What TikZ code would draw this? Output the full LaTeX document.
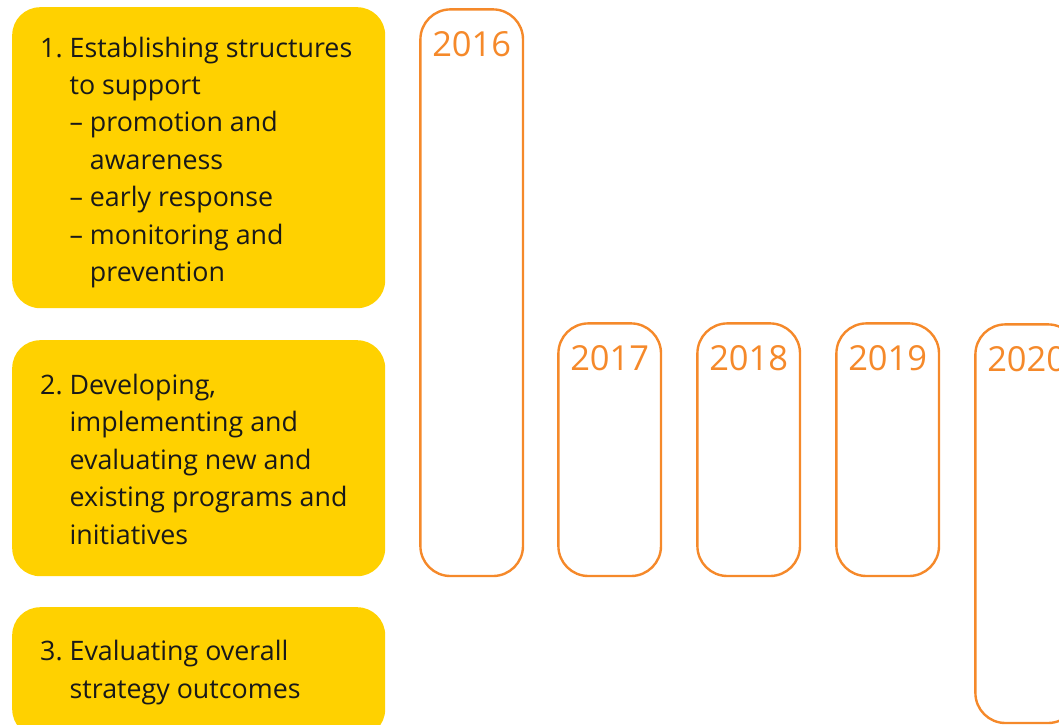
\documentclass[tikz,border=0pt]{standalone}
\usepackage{fontspec}
\setmainfont{Open Sans}
\definecolor{aimyellow}{HTML}{FFD100}
\definecolor{yearorange}{HTML}{F5892A}
\tikzset{
  aimbox/.style={fill=aimyellow, rounded corners=28pt, anchor=north west,
    minimum width=373pt, inner sep=0pt},
  aimtext/.style={anchor=base west, inner sep=0pt, align=left, text=black!90,
    font=\fontsize{26.8}{37.4}\selectfont},
  yearbox/.style={draw=yearorange, line width=2.4pt, rounded corners=30pt,
    anchor=north west, minimum width=102.6pt, inner sep=0pt},
  yeartext/.style={text=yearorange, inner sep=0pt, font=\fontsize{34.5}{35}\selectfont}
}
\begin{document}
\begin{tikzpicture}[x=1pt, y=-1pt]
  \clip (0,0) rectangle (1059,724);
  % aims (text nodes sit on the baseline of their last line)
  \node[aimbox, minimum height=301pt] (aim1) at (12,7) {};
  \node[aimbox, minimum height=236pt] (aim2) at (12,340) {};
  \node[aimbox, minimum height=130pt] (aim3) at (12,607) {};
  \node[aimtext] (a1) at (40,281.4) {1.~Establishing structures\\
    \hphantom{1.~}to support\\
    \hphantom{1.~}–~promotion and\\
    \hphantom{1.~–~}awareness\\
    \hphantom{1.~}–~early response\\
    \hphantom{1.~}–~monitoring and\\
    \hphantom{1.~–~}prevention};
  \node[aimtext] (a2) at (40,544) {2.~Developing,\\
    \hphantom{2.~}implementing and\\
    \hphantom{2.~}evaluating new and\\
    \hphantom{2.~}existing programs and\\
    \hphantom{2.~}initiatives};
  \node[aimtext] (a3) at (40,698) {3.~Evaluating overall\\
    \hphantom{3.~}strategy outcomes};
  % years
  \node[yearbox, minimum height=566.6pt] (y2016) at (419.2,8.2) {};
  \node[yearbox, minimum height=252.6pt] (y2017) at (557.2,322.2) {};
  \node[yearbox, minimum height=252.6pt] (y2018) at (696.2,322.2) {};
  \node[yearbox, minimum height=252.6pt] (y2019) at (835.2,322.2) {};
  \node[yearbox, minimum height=398.6pt] (y2020) at (974.2,323.2) {};
  \node[yeartext] (t2016) at ([yshift=-36pt]y2016.north) {2016};
  \node[yeartext] (t2017) at ([yshift=-36pt]y2017.north) {2017};
  \node[yeartext] (t2018) at ([yshift=-36pt]y2018.north) {2018};
  \node[yeartext] (t2019) at ([yshift=-36pt]y2019.north) {2019};
  \node[yeartext] (t2020) at ([yshift=-36pt]y2020.north) {2020};
\end{tikzpicture}
\end{document}
